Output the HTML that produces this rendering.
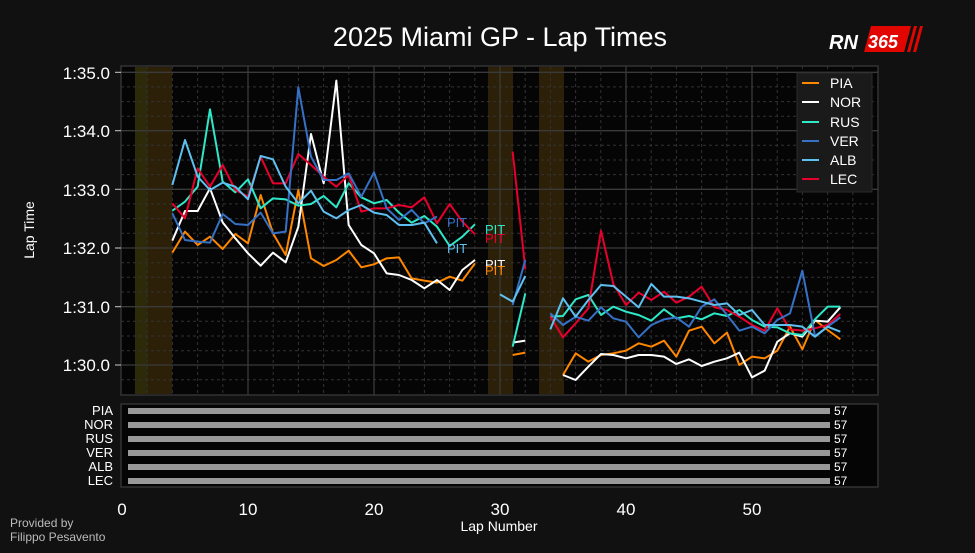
<!DOCTYPE html>
<html><head><meta charset="utf-8"><style>
body{margin:0;background:#111111;width:975px;height:548px;overflow:hidden;font-family:"Liberation Sans","DejaVu Sans",sans-serif}
</style></head><body>
<svg width="975" height="548" viewBox="0 0 975 548" xmlns="http://www.w3.org/2000/svg" font-family="Liberation Sans, DejaVu Sans, sans-serif">
<rect width="975" height="548" fill="#111111"/>
<text x="500" y="46" fill="#fff" font-size="27" text-anchor="middle">2025 Miami GP - Lap Times</text>
<!-- logo -->
<g transform="skewX(-15)">
<rect x="838" y="26" width="34" height="26" fill="#111"/>
<rect x="878" y="26" width="40" height="26" fill="#e10600"/>
<rect x="921" y="26" width="3" height="26" fill="#e10600"/>
<rect x="927" y="26" width="3" height="26" fill="#e10600"/>
</g>
<text x="829" y="49" fill="#fff" font-size="20" font-weight="bold" font-style="italic">RN</text>
<text x="868" y="48" fill="#fff" font-size="18" font-weight="bold" font-style="italic">365</text>

<!-- main plot -->
<rect x="121" y="66" width="757" height="329" fill="#050505" stroke="#333" stroke-width="1.5"/>
<rect x="135" y="67" width="12" height="327" fill="#2c2a08"/>
<rect x="147" y="67" width="25" height="327" fill="#2c2108"/>
<rect x="488" y="67" width="25" height="327" fill="#2c2108"/>
<rect x="539" y="67" width="25" height="327" fill="#2c2108"/>
<g stroke="#333" stroke-width="1" stroke-dasharray="3,3">
<line x1="121" x2="878" y1="86.9" y2="86.9"/><line x1="121" x2="878" y1="101.6" y2="101.6"/><line x1="121" x2="878" y1="116.2" y2="116.2"/>
<line x1="121" x2="878" y1="145.3" y2="145.3"/><line x1="121" x2="878" y1="160" y2="160"/><line x1="121" x2="878" y1="174.6" y2="174.6"/>
<line x1="121" x2="878" y1="203.9" y2="203.9"/><line x1="121" x2="878" y1="218.6" y2="218.6"/><line x1="121" x2="878" y1="233.3" y2="233.3"/>
<line x1="121" x2="878" y1="262.7" y2="262.7"/><line x1="121" x2="878" y1="277.3" y2="277.3"/><line x1="121" x2="878" y1="292" y2="292"/>
<line x1="121" x2="878" y1="321.3" y2="321.3"/><line x1="121" x2="878" y1="336" y2="336"/><line x1="121" x2="878" y1="350.7" y2="350.7"/>
<line x1="121" x2="878" y1="379.7" y2="379.7"/>
<line y1="66" y2="395" x1="147.2" x2="147.2"/><line y1="66" y2="395" x1="172.4" x2="172.4"/><line y1="66" y2="395" x1="197.6" x2="197.6"/><line y1="66" y2="395" x1="222.8" x2="222.8"/>
<line y1="66" y2="395" x1="273.2" x2="273.2"/><line y1="66" y2="395" x1="298.4" x2="298.4"/><line y1="66" y2="395" x1="323.6" x2="323.6"/><line y1="66" y2="395" x1="348.8" x2="348.8"/>
<line y1="66" y2="395" x1="399.2" x2="399.2"/><line y1="66" y2="395" x1="424.4" x2="424.4"/><line y1="66" y2="395" x1="449.6" x2="449.6"/><line y1="66" y2="395" x1="474.8" x2="474.8"/>
<line y1="66" y2="395" x1="525.2" x2="525.2"/><line y1="66" y2="395" x1="550.4" x2="550.4"/><line y1="66" y2="395" x1="575.6" x2="575.6"/><line y1="66" y2="395" x1="600.8" x2="600.8"/>
<line y1="66" y2="395" x1="651.2" x2="651.2"/><line y1="66" y2="395" x1="676.4" x2="676.4"/><line y1="66" y2="395" x1="701.6" x2="701.6"/><line y1="66" y2="395" x1="726.8" x2="726.8"/>
<line y1="66" y2="395" x1="777.2" x2="777.2"/><line y1="66" y2="395" x1="802.4" x2="802.4"/><line y1="66" y2="395" x1="827.6" x2="827.6"/><line y1="66" y2="395" x1="852.8" x2="852.8"/>
</g>
<g stroke="#3a3a3a" stroke-width="1.3">
<line x1="121" x2="878" y1="72.3" y2="72.3"/><line x1="121" x2="878" y1="130.7" y2="130.7"/><line x1="121" x2="878" y1="189.3" y2="189.3"/>
<line x1="121" x2="878" y1="248" y2="248"/><line x1="121" x2="878" y1="306.7" y2="306.7"/><line x1="121" x2="878" y1="365" y2="365"/>
<line y1="66" y2="395" x1="248" x2="248"/><line y1="66" y2="395" x1="374" x2="374"/><line y1="66" y2="395" x1="500" x2="500"/><line y1="66" y2="395" x1="626" x2="626"/><line y1="66" y2="395" x1="752" x2="752"/>
</g>
<g fill="#fff" font-size="17" text-anchor="end">
<text x="110" y="79">1:35.0</text><text x="110" y="137">1:34.0</text><text x="110" y="196">1:33.0</text>
<text x="110" y="254">1:32.0</text><text x="110" y="313">1:31.0</text><text x="110" y="371">1:30.0</text>
</g>
<g stroke="#ccc" stroke-width="1"><line x1="115" x2="121" y1="72.3" y2="72.3"/><line x1="115" x2="121" y1="130.7" y2="130.7"/><line x1="115" x2="121" y1="189.3" y2="189.3"/><line x1="115" x2="121" y1="248" y2="248"/><line x1="115" x2="121" y1="306.7" y2="306.7"/><line x1="115" x2="121" y1="365" y2="365"/></g>
<text transform="translate(34,230) rotate(-90)" fill="#fff" font-size="14" text-anchor="middle">Lap Time</text>

<g fill="none" stroke-width="6" stroke-linejoin="round" transform="translate(100,60) scale(0.33333)">
<polyline stroke="#ff8700" points="217,578 255,515 293,555 330,530 368,567 406,522 444,550 482,405 519,520 557,585 595,390 633,595 671,618 709,600 746,572 784,622 822,613 860,595 897,592 935,655 973,662 1011,668 1049,650 1087,662 1125,610"/>
<polyline stroke="#ff8700" points="1238,885 1276,878"/>
<polyline stroke="#ffffff" points="217,542 255,453 293,453 330,385 368,487 406,535 444,580 482,617 519,578 557,607 595,500 633,222 671,370 709,62 746,495 784,555 822,580 860,640 897,645 935,660 973,685 1011,660 1049,690 1087,630 1125,600"/>
<polyline stroke="#ffffff" points="1238,848 1276,842"/>
<polyline stroke="#2ee8c8" points="217,452 255,425 293,380 330,148 368,365 406,397 444,358 482,445 519,415 557,418 595,437 633,432 671,408 709,442 746,370 784,412 822,430 860,420 897,458 935,488 973,468 1011,500 1049,558 1087,530 1125,493"/>
<polyline stroke="#2ee8c8" points="1238,860 1276,700"/>
<polyline stroke="#e8002d" points="217,430 255,475 293,325 330,380 368,315 406,390 444,410 482,290 519,370 557,370 595,282 633,315 671,350 709,380 746,345 784,455 822,445 860,445 897,435 935,442 973,412 1011,490 1049,432 1087,485 1125,523"/>
<polyline stroke="#e8002d" points="1238,275 1276,628"/>
<polyline stroke="#3671c6" points="217,460 255,540 293,545 330,548 368,462 406,492 444,495 482,458 519,520 557,515 595,82 633,290 671,360 709,360 746,340 784,410 822,337 860,445 897,480 935,450 973,490 1011,470"/>
<polyline stroke="#3671c6" points="1238,735 1276,600"/>
<polyline stroke="#5ec0f0" points="217,375 255,240 293,350 330,390 368,368 406,380 444,418 482,288 519,298 557,380 595,430 633,392 671,455 709,475 746,450 784,435 822,458 860,465 897,495 935,495 973,488 1011,550"/>
<polyline stroke="#5ec0f0" points="1200,703 1238,725 1276,648"/>
</g>
<g fill="none" stroke-width="6" stroke-linejoin="round" transform="translate(520,60) scale(0.33333)">
<polyline stroke="#ff8700" points="129,945 167,880 205,905 243,885 280,880 318,872 356,850 394,860 432,842 469,890 507,812 545,800 583,850 621,818 658,915 696,890 734,895 772,872 810,800 847,868 885,780 923,810 961,838"/>
<polyline stroke="#ffffff" points="129,945 167,960 205,920 243,882 280,885 318,895 356,885 394,885 432,890 469,912 507,898 545,918 583,905 621,895 658,878 696,952 734,932 772,845 810,820 847,830 885,782 923,785 961,742"/>
<polyline stroke="#2ee8c8" points="91,770 129,768 167,718 205,705 243,765 280,740 318,755 356,765 394,782 432,748 469,775 507,768 545,778 583,760 621,768 658,750 696,780 734,800 772,802 810,820 847,825 885,778 923,740 961,740"/>
<polyline stroke="#e8002d" points="91,770 129,832 167,790 205,745 243,512 280,672 318,735 356,698 394,720 432,695 469,728 507,710 545,680 583,742 621,750 658,770 696,795 734,812 772,745 810,808 847,812 885,805 923,795 961,762"/>
<polyline stroke="#3671c6" points="91,760 129,795 167,770 205,782 243,742 280,775 318,785 356,832 394,795 432,778 469,772 507,800 545,740 583,718 621,765 658,812 696,800 734,820 772,780 810,760 847,632 885,828 923,800 961,772"/>
<polyline stroke="#5ec0f0" points="91,808 129,715 167,770 205,720 243,675 280,678 318,710 356,742 394,672 432,710 469,710 507,715 545,725 583,735 621,730 658,765 696,750 734,795 772,795 810,795 847,800 885,830 923,800 961,815"/>
</g>
<g font-size="13">
<text x="447" y="227" fill="#3671c6">PIT</text>
<text x="485" y="234" fill="#2ee8c8">PIT</text>
<text x="485" y="243" fill="#e8002d">PIT</text>
<text x="447" y="253" fill="#5ec0f0">PIT</text>
<text x="485" y="269" fill="#ffffff">PIT</text>
<text x="485" y="275" fill="#ff8700">PIT</text>
</g>
<!-- legend -->
<rect x="797" y="73" width="75" height="119" fill="#1a1a1a" stroke="#2a2a2a"/>
<g stroke-width="2">
<line x1="802" x2="819" y1="83" y2="83" stroke="#ff8700"/><line x1="802" x2="819" y1="102" y2="102" stroke="#fff"/>
<line x1="802" x2="819" y1="122" y2="122" stroke="#2ee8c8"/><line x1="802" x2="819" y1="141" y2="141" stroke="#3671c6"/>
<line x1="802" x2="819" y1="160" y2="160" stroke="#5ec0f0"/><line x1="802" x2="819" y1="179" y2="179" stroke="#e8002d"/>
</g>
<g fill="#fff" font-size="14">
<text x="830" y="88">PIA</text><text x="830" y="107">NOR</text><text x="830" y="127">RUS</text>
<text x="830" y="146">VER</text><text x="830" y="165">ALB</text><text x="830" y="184">LEC</text>
</g>
<!-- lower panel -->
<rect x="121" y="404" width="757" height="83" fill="#050505" stroke="#333" stroke-width="1.5"/>
<g fill="#999">
<rect x="128" y="408" width="702" height="6"/><rect x="128" y="422" width="702" height="6"/><rect x="128" y="436" width="702" height="6"/>
<rect x="128" y="450" width="702" height="6"/><rect x="128" y="464" width="702" height="6"/><rect x="128" y="478" width="702" height="6"/>
</g>
<g fill="#fff" font-size="12">
<text x="834" y="415">57</text><text x="834" y="429">57</text><text x="834" y="443">57</text><text x="834" y="457">57</text><text x="834" y="471">57</text><text x="834" y="485">57</text>
</g>
<g fill="#fff" font-size="13" text-anchor="end">
<text x="113" y="415">PIA</text><text x="113" y="429">NOR</text><text x="113" y="443">RUS</text><text x="113" y="457">VER</text><text x="113" y="471">ALB</text><text x="113" y="485">LEC</text>
</g>
<g fill="#fff" font-size="17" text-anchor="middle">
<text x="122" y="515">0</text><text x="248" y="515">10</text><text x="374" y="515">20</text><text x="500" y="515">30</text><text x="626" y="515">40</text><text x="752" y="515">50</text>
</g>
<text x="499" y="531" fill="#fff" font-size="14" text-anchor="middle">Lap Number</text>
<text x="10" y="527" fill="#bbb" font-size="12">Provided by</text>
<text x="10" y="541" fill="#bbb" font-size="12">Filippo Pesavento</text>
</svg>
</body></html>
